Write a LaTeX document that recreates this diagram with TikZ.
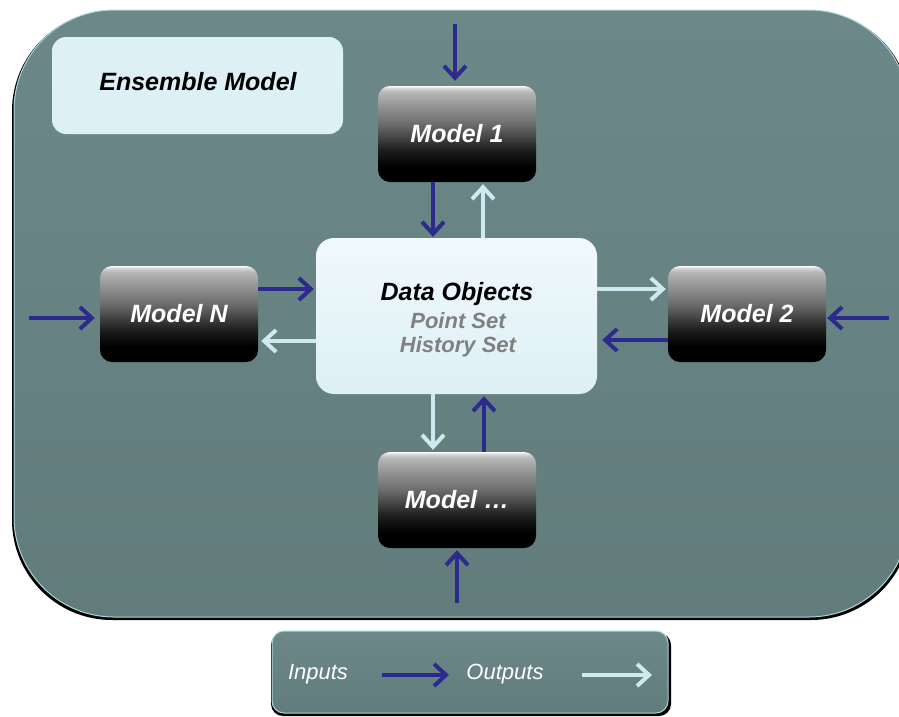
\documentclass[tikz,border=0pt]{standalone}
\usepackage{fontspec}
\setmainfont{Liberation Sans}
\usetikzlibrary{arrows.meta}

\definecolor{bgtop}{RGB}{108,136,136}
\definecolor{bgbot}{RGB}{98,124,124}
\definecolor{rimcol}{RGB}{170,214,222}
\definecolor{inblue}{RGB}{44,42,140}
\definecolor{outlight}{RGB}{206,233,239}
\definecolor{boxcyan}{RGB}{220,240,246}
\definecolor{softgray}{RGB}{128,128,128}

% glossy black-to-grey fill of the model boxes (path box = 25bp..75bp)
\pgfdeclareverticalshading{modelshade}{100bp}{%
  color(0bp)=(black); color(25bp)=(black); color(33bp)=(black);
  color(42bp)=(black!88); color(55bp)=(black!58); color(67bp)=(black!38);
  color(72bp)=(black!28); color(74bp)=(white!85!black); color(75bp)=(white);
  color(100bp)=(white)}

\tikzset{
  modelbox/.style={rounded corners=12pt, minimum width=158pt, minimum height=96pt,
    inner sep=0pt, shading=modelshade, text=white,
    font=\fontsize{25}{30}\selectfont\bfseries\itshape},
  lightbox/.style={rounded corners=14pt, inner sep=0pt, fill=boxcyan},
  inarrow/.style={draw=inblue, line width=4pt,
    -{Straight Barb[length=12pt,width=22pt,line width=4pt]}},
  outarrow/.style={draw=outlight, line width=4pt,
    -{Straight Barb[length=12pt,width=22pt,line width=4pt]}},
  legtext/.style={text=white, font=\fontsize{22}{26}\selectfont\itshape},
  datasub/.style={text=softgray, font=\fontsize{22}{26}\selectfont\bfseries\itshape}
}

\begin{document}
\begin{tikzpicture}[x=1pt, y=-1pt]
\useasboundingbox (0,0) rectangle (899,716);
\clip (0,0) rectangle (899,716);

% outer panel with its drop shadow
\fill[black, rounded corners=100pt] (12,11) rectangle (911,620);
\shade[top color=bgtop, bottom color=bgbot, draw=rimcol, line width=1pt,
  rounded corners=100pt] (14,10) rectangle (909,617);

% legend panel
\fill[black, rounded corners=12pt] (271,633) rectangle (671,716);
\shade[top color=bgtop, bottom color=bgbot, draw=rimcol, line width=1pt,
  rounded corners=12pt] (272,631) rectangle (668,713);

% title box
\node[lightbox, minimum width=291pt, minimum height=97pt] (ens) at (197.5,85.5) {};
\node[font=\fontsize{25}{30}\selectfont\bfseries\itshape] (enslabel) at (198,82) {Ensemble Model};

% central data store
\node[rounded corners=18pt, minimum width=281pt, minimum height=156pt, inner sep=0pt,
  top color=white!60!boxcyan, bottom color=boxcyan] (data) at (456.5,316) {};
\node[font=\fontsize{25}{30}\selectfont\bfseries\itshape] (datatitle) at (457,294) {Data Objects};
\node[datasub] (pointset) at (458,321) {Point Set};
\node[datasub] (histset) at (458,347) {History Set};

% models
\node[modelbox] (m1) at (457,134) {Model 1};
\node[modelbox] (mN) at (179,314) {Model N};
\node[modelbox] (m2) at (747,314) {Model 2};
\node[modelbox] (mdots) at (457,500) {Model \dots};

% external inputs
\coordinate (in1) at (455,24);
\coordinate (inN) at (29,318);
\coordinate (in2) at (889,318);
\coordinate (in3) at (457,603);
\draw[inarrow, shorten >=5pt] (in1) -- (in1 |- m1.north);
\draw[inarrow, shorten >=5pt] (inN) -- (inN -| mN.west);
\draw[inarrow, shorten >=1pt] (in2) -- (in2 -| m2.east);
\draw[inarrow, shorten >=2pt] (in3) -- (in3 |- mdots.south);

% Model 1 <-> data
\draw[inarrow, shorten >=1pt] ([xshift=-24pt]m1.south) -- ([xshift=-24pt]m1.south |- data.north);
\draw[outarrow, shorten >=2pt] ([xshift=26pt]m1.south |- data.north) -- ([xshift=26pt]m1.south);

% Model N <-> data
\draw[inarrow, shorten >=2pt] ([yshift=25pt]mN.east) -- ([yshift=25pt]mN.east -| data.west);
\draw[outarrow, shorten >=3pt] ([yshift=-27pt]mN.east -| data.west) -- ([yshift=-27pt]mN.east);

% Model 2 <-> data
\draw[outarrow, shorten >=2pt] ([yshift=25pt]m2.west -| data.east) -- ([yshift=25pt]m2.west);
\draw[inarrow, shorten >=5pt] ([yshift=-26pt]m2.west) -- ([yshift=-26pt]m2.west -| data.east);

% Model ... <-> data
\draw[outarrow, shorten >=2pt] ([xshift=-24pt]mdots.north |- data.south) -- ([xshift=-24pt]mdots.north);
\draw[inarrow, shorten >=2pt] ([xshift=27pt]mdots.north) -- ([xshift=27pt]mdots.north |- data.south);

% legend
\node[legtext] (leginputs) at (318,674) {Inputs};
\node[legtext] (legoutputs) at (505,674) {Outputs};
\coordinate (lega) at (382,675);
\coordinate (legb) at (449,675);
\coordinate (legc) at (582,675);
\coordinate (legd) at (652,675);
\draw[inarrow] (lega) -- (legb);
\draw[outarrow] (legc) -- (legd);
\end{tikzpicture}
\end{document}
